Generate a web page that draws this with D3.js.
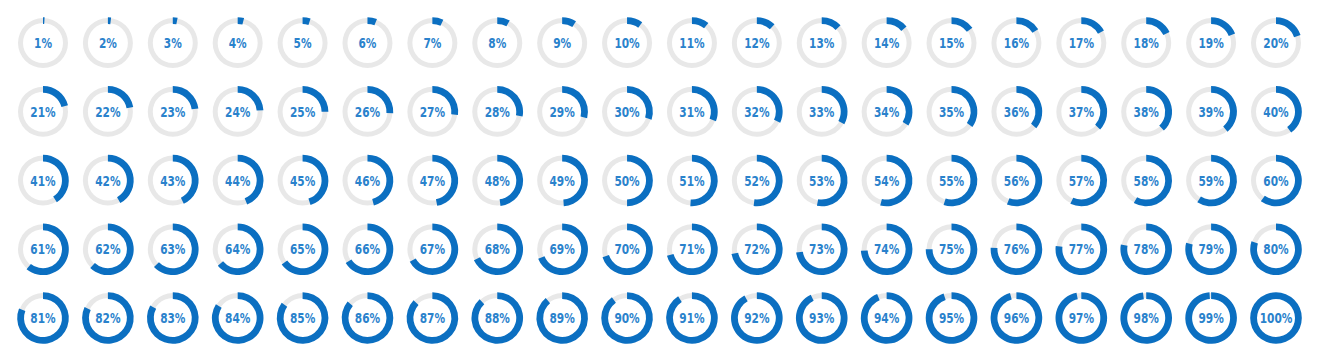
<!DOCTYPE html>
<html>
<head>
<meta charset="utf-8">
<script src="https://cdn.jsdelivr.net/npm/d3@7/dist/d3.min.js"></script>
<style>
  html, body { margin: 0; padding: 0; background: #ffffff; }
  svg { display: block; }
</style>
</head>
<body>
<svg id="chart" width="1319" height="360"></svg>
<script>
// Percentages shown, one donut each, read left-to-right, top-to-bottom
const values = [
  1, 2, 3, 4, 5, 6, 7, 8, 9, 10, 11, 12, 13, 14, 15, 16, 17, 18, 19, 20,
  21, 22, 23, 24, 25, 26, 27, 28, 29, 30, 31, 32, 33, 34, 35, 36, 37, 38, 39, 40,
  41, 42, 43, 44, 45, 46, 47, 48, 49, 50, 51, 52, 53, 54, 55, 56, 57, 58, 59, 60,
  61, 62, 63, 64, 65, 66, 67, 68, 69, 70, 71, 72, 73, 74, 75, 76, 77, 78, 79, 80,
  81, 82, 83, 84, 85, 86, 87, 88, 89, 90, 91, 92, 93, 94, 95, 96, 97, 98, 99, 100
];
const columns = d3.range(20);
const rows = d3.range(5);

const svg = d3.select("#chart");

const x = d3.scalePoint().domain(columns).range([43, 1276]);
const y = d3.scalePoint().domain(rows).range([43, 318]);
const angle = d3.scaleLinear().domain([0, 100]).range([0, 2 * Math.PI]);

const trackArc = d3.arc().innerRadius(20).outerRadius(25).startAngle(0).endAngle(2 * Math.PI);
const valueArc = d3.arc().innerRadius(19).outerRadius(25.8).startAngle(0).endAngle(d => angle(d));

const g = svg.selectAll("g.donut")
  .data(values)
  .join("g")
  .attr("class", "donut")
  .attr("transform", (d, i) => `translate(${x(i % 20)},${y(Math.floor(i / 20))})`);

g.append("path")
  .attr("d", trackArc())
  .attr("fill", "#e8e8e8");

g.append("path")
  .attr("d", d => valueArc(d))
  .attr("fill", "#0b6fc1");

g.append("text")
  .attr("text-anchor", "middle")
  .attr("dy", "0.36em")
  .attr("transform", "scale(0.84,1)")
  .attr("font-family", "'DejaVu Sans Condensed', 'DejaVu Sans', sans-serif")
  .attr("font-weight", "bold")
  .attr("font-size", 14)
  .attr("fill", "#2a82cc")
  .text(d => d + "%");
</script>
</body>
</html>
